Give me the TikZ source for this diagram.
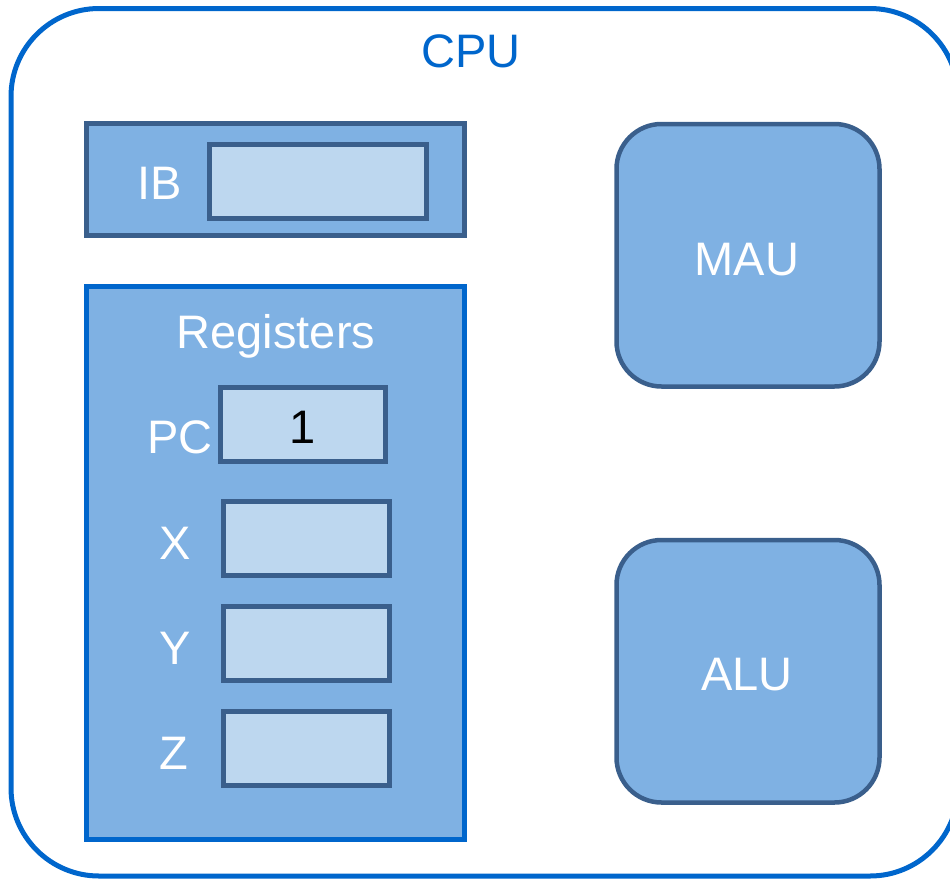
\documentclass[tikz,border=0pt]{standalone}
\usepackage{fontspec}
\setmainfont{Liberation Sans}
\definecolor{cpublue}{RGB}{0,102,204}
\definecolor{darkedge}{RGB}{58,95,140}
\definecolor{midfill}{RGB}{127,177,227}
\definecolor{lightfill}{RGB}{189,215,239}
\begin{document}
\begin{tikzpicture}[x=1pt,y=-1pt,
  bigtext/.style={font=\fontsize{47}{56}\selectfont, inner sep=0pt, anchor=base},
  boxnode/.style={rectangle, inner sep=0pt, outer sep=0pt},
  regbox/.style={boxnode, draw=darkedge, line width=5pt, fill=lightfill, minimum width=166pt, minimum height=74pt},
  panel/.style={boxnode, line width=5pt, fill=midfill},
  unit/.style={boxnode, draw=darkedge, line width=4.5pt, fill=midfill, rounded corners=45pt, minimum width=263pt, minimum height=262.5pt}]
\clip (0,0) rectangle (950,878);
% CPU outer box
\node[boxnode, draw=cpublue, line width=5pt, rounded corners=88pt, minimum width=947pt, minimum height=867.5pt] (cpubox) at (484.5,442.25) {};
\node[bigtext, text=cpublue] (cpu) at (471,67) {CPU};
% IB
\node[panel, draw=darkedge, minimum width=378.5pt, minimum height=112pt] (ibpanel) at (275.25,179) {};
\node[regbox, minimum width=217pt] (ibbox) at (318,181.5) {};
\node[bigtext, text=white] (ib) at (160,199) {IB};
% Registers
\node[panel, draw=cpublue, minimum width=378.5pt, minimum height=553.5pt] (regpanel) at (275.25,562.75) {};
\node[bigtext, text=white] (regs) at (276,348) {Registers};
\node[regbox, minimum width=165pt] (pcbox) at (303,424.5) {};
\node[bigtext, text=white] (pc) at (180,453) {PC};
\node[bigtext, text=black] (pcval) at (303,443) {1};
\node[regbox] (xbox) at (306,538) {};
\node[bigtext, text=white] (x) at (175,559) {X};
\node[regbox] (ybox) at (306,643) {};
\node[bigtext, text=white] (y) at (175,664) {Y};
\node[regbox] (zbox) at (306,748) {};
\node[bigtext, text=white] (z) at (174,769) {Z};
% MAU and ALU
\node[unit] (maubox) at (748,255.25) {};
\node[bigtext, text=white] (mau) at (747,275) {MAU};
\node[unit] (alubox) at (748,671.25) {};
\node[bigtext, text=white] (alu) at (747,690) {ALU};
\end{tikzpicture}
\end{document}
